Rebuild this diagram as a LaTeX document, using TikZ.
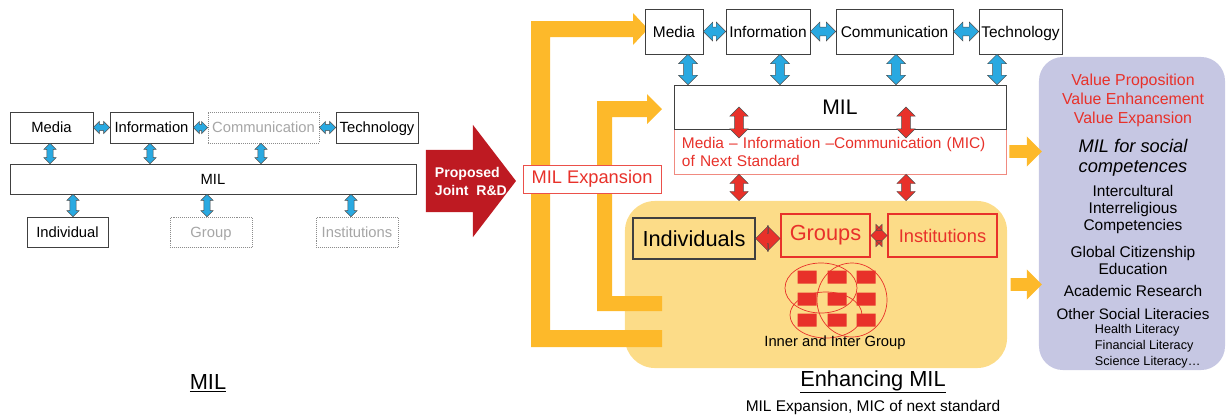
\documentclass[tikz,border=0pt]{standalone}
\usepackage{fontspec}
\setmainfont{Liberation Sans}
\usetikzlibrary{shapes.arrows,calc}

\definecolor{arrblue}{HTML}{29A9E1}
\definecolor{milred}{HTML}{E8312A}
\definecolor{micred}{HTML}{F08A80}
\definecolor{darkred}{HTML}{BE1A22}
\definecolor{barorange}{HTML}{FDB92A}
\definecolor{lightyel}{HTML}{FCDC88}
\definecolor{lavender}{HTML}{C6C7E3}
\definecolor{ghostgray}{HTML}{A6A6A6}

\tikzset{
  lbox/.style={draw=black!75, fill=white, inner sep=0pt, minimum height=0.775cm, text height=0.72em, text depth=0pt, font=\fontsize{10.5}{12}\selectfont},
  ghost/.style={lbox, draw=black!45, densely dotted, text=ghostgray},
  rbox/.style={draw=black!75, fill=white, inner sep=0pt, minimum height=1.125cm, text height=0.9em, text depth=0pt, font=\fontsize{11}{13}\selectfont},
  grp/.style={draw=milred, line width=1.3pt, text=milred, inner sep=0pt, minimum height=1.075cm, font=\fontsize{15.5}{18}\selectfont},
  region/.style={fill=lightyel, rounded corners=0.75cm, inner sep=0pt},
  bluearr/.style={double arrow, draw=black!70, fill=arrblue, line width=0.3pt, inner xsep=0pt, inner ysep=2.1pt, double arrow head extend=2.1pt},
  bluebig/.style={bluearr, inner ysep=3pt, double arrow head extend=3.6pt},
  redarr/.style={bluearr, fill=milred, inner ysep=3pt, double arrow head extend=3.4pt},
  redbig/.style={redarr, inner ysep=3.5pt, double arrow head extend=5.5pt},
  yarr/.style={single arrow, fill=barorange, inner xsep=0pt, inner ysep=4.3pt, single arrow head extend=6.2pt},
  title/.style={font=\fontsize{15.5}{18}\selectfont},
  paneltext/.style={align=center, font=\fontsize{11}{12.4}\selectfont},
}

\newcommand{\hlink}[3][bluearr]{%
  \path let \p1=(#2.east), \p2=(#3.west) in
    node[#1, minimum height={\x2-\x1}] at ({0.5*\x1+0.5*\x2},\y1) {};}
\newcommand{\vlink}[4][bluearr]{%
  \path let \p1=(#2.south), \p2=(#3.north), \p3=(#4,0) in
    node[#1, rotate=90, minimum height={\y1-\y2}] at (\x3,{0.5*\y1+0.5*\y2}) {};}

\begin{document}
\begin{tikzpicture}[x=0.025cm, y=-0.025cm]
\useasboundingbox (0,0) rectangle (1226,416);

% MIL
\node[lbox, minimum width=2.075cm] (lmedia) at (51.5,127.5) {Media};
\node[lbox, minimum width=2.075cm] (linfo) at (151.5,127.5) {Information};
\node[ghost, minimum width=2.775cm] (lcomm) at (263.5,127.5) {Communication};
\node[lbox, minimum width=2.05cm] (ltech) at (377,127.5) {Technology};
\node[lbox, minimum width=10.15cm, minimum height=0.75cm] (lmil) at (213,179) {MIL};
\node[lbox, minimum width=2.025cm, minimum height=0.75cm] (lind) at (67.5,232) {Individual};
\node[ghost, minimum width=2.05cm, minimum height=0.75cm] (lgroup) at (211,232) {Group};
\node[ghost, minimum width=2.05cm, minimum height=0.75cm] (linst) at (357,232) {Institutions};
\hlink{lmedia}{linfo}
\hlink{linfo}{lcomm}
\hlink{lcomm}{ltech}
\vlink{lmedia}{lmil}{50}
\vlink{linfo}{lmil}{150}
\vlink{lcomm}{lmil}{261}
\vlink{lmil}{lind}{73}
\vlink{lmil}{lgroup}{207}
\vlink{lmil}{linst}{351}
\node[title] (ltitle) at (208,383) {\underline{MIL}};

\node[single arrow, fill=darkred, inner xsep=0pt, inner ysep=22pt, minimum height=2.25cm,
  single arrow head extend=17.7pt, single arrow tip angle=105] (rd) at (459,181) {};
\node[anchor=west, align=left, text=white, font=\bfseries\fontsize{10}{12.8}\selectfont] (rdtext) at (430,181) {Proposed\\Joint~~R\&D};

% Enhancing MIL
\node[region, minimum width=9.55cm, minimum height=4.175cm] (enh) at (816,284.5) {};
\fill[barorange] (531,347) -- (531,21) -- (633,21) -- (633,13) -- (648,29) -- (633,45) -- (633,37)
  -- (550,37) -- (550,330) -- (662,330) -- (662,347) -- cycle;
\fill[barorange] (597,311) -- (597,101) -- (647,101) -- (647,94) -- (662,109) -- (647,124) -- (647,117)
  -- (612,117) -- (612,296) -- (662,296) -- (662,311) -- cycle;
\node[draw=milred!85, fill=white, text=milred, inner sep=0pt, minimum width=3.45cm, minimum height=0.7cm,
  font=\fontsize{13}{15}\selectfont] (rexp) at (592,179) {MIL Expansion};

\node[rbox, minimum width=1.45cm] (rmedia) at (674,31.5) {Media};
\node[rbox, minimum width=2.1cm] (rinfo) at (768,31.5) {Information};
\node[rbox, minimum width=2.925cm] (rcomm) at (894.5,31.5) {Communication};
\node[rbox, minimum width=2.075cm] (rtech) at (1020.5,31.5) {Technology};
\node[draw=micred, fill=white, text=milred, minimum width=8.3cm, minimum height=1.125cm, text width=7.9cm,
  align=left, inner xsep=0.2cm, inner ysep=0pt, font=\fontsize{11}{12.8}\selectfont] (rmic) at (840,151.5)
  {Media -- Information --Communication (MIC)\\of Next Standard};
\node[rbox, minimum width=8.3cm, minimum height=1.1cm, text height=1em, font=\fontsize{15}{18}\selectfont] (rmil) at (840,107) {MIL};
\hlink[bluebig]{rmedia}{rinfo}
\hlink[bluebig]{rinfo}{rcomm}
\hlink[bluebig]{rcomm}{rtech}
\vlink[bluebig]{rmedia}{rmil}{688}
\vlink[bluebig]{rinfo}{rmil}{780}
\vlink[bluebig]{rcomm}{rmil}{896}
\vlink[bluebig]{rtech}{rmil}{997}
\node[redarr, rotate=90, minimum height=22pt] (mr1) at (739,122.5) {};
\node[redarr, rotate=90, minimum height=22pt] (mr2) at (906,122.5) {};
\vlink[redarr]{rmic}{enh}{739}
\vlink[redarr]{rmic}{enh}{906}

\node[draw=black!75, line width=0.8pt, inner sep=0pt, minimum width=3.05cm, minimum height=1.025cm,
  font=\fontsize{15.5}{18}\selectfont] (rind) at (694,238.5) {Individuals};
\node[grp, minimum width=2.225cm] (rgroups) at (825.5,235.5) {Groups};
\node[grp, minimum width=2.725cm, font=\fontsize{13}{15}\selectfont] (rinst) at (942.5,235.5) {Institutions};
\hlink[redbig]{rind}{rgroups}
\hlink[redbig, double arrow head extend=4.3pt]{rgroups}{rinst}

\fill[milred] (797.5,270.5) rectangle ++(19,13) (827.5,270.5) rectangle ++(19,13) (856.5,270.5) rectangle ++(19,13)
  (797.5,292.5) rectangle ++(19,13) (827.5,292.5) rectangle ++(19,13) (856.5,292.5) rectangle ++(19,13)
  (797.5,313.5) rectangle ++(19,13) (827.5,313.5) rectangle ++(19,13) (856.5,313.5) rectangle ++(19,13);
\draw[milred, line width=0.5pt] (821,288) ellipse [x radius=0.9cm, y radius=0.625cm];
\draw[milred, line width=0.5pt] (852,300) ellipse [x radius=0.875cm, y radius=0.925cm];
\draw[milred, line width=0.5pt] (826,315) ellipse [x radius=0.9cm, y radius=0.575cm];
\node[font=\fontsize{10.5}{12}\selectfont] (inter) at (835,343) {Inner and Inter Group};

\node[title] (rtitle) at (873,382) {\underline{Enhancing MIL}};
\node[font=\fontsize{11}{13}\selectfont] (rsub) at (873,407) {MIL Expansion, MIC of next standard};

% social competences
\node[fill=lavender, rounded corners=0.6cm, inner sep=0pt, minimum width=4.65cm, minimum height=7.825cm] (panel) at (1132,213.5) {};
\hlink[yarr]{rmic}{panel}
\hlink[yarr]{enh}{panel}
\node[paneltext, text=milred, font=\fontsize{11.3}{13.5}\selectfont] (value) at (1133,100) {Value Proposition\\Value Enhancement\\Value Expansion};
\node[paneltext, font=\itshape\fontsize{13}{14.2}\selectfont] (social) at (1133,158) {MIL for social\\competences};
\node[paneltext] (intercult) at (1133,209.5) {Intercultural\\Interreligious\\Competencies};
\node[paneltext] (global) at (1133,260.5) {Global Citizenship\\Education};
\node[paneltext] (academic) at (1133,291) {Academic Research};
\node[paneltext, font=\fontsize{10.8}{12}\selectfont] (other) at (1133,314) {Other Social Literacies};
\node[anchor=west, align=left, font=\fontsize{9}{11.3}\selectfont] (literacy) at (1090,346) {Health Literacy\\Financial Literacy\\Science Literacy…};

\end{tikzpicture}
\end{document}
